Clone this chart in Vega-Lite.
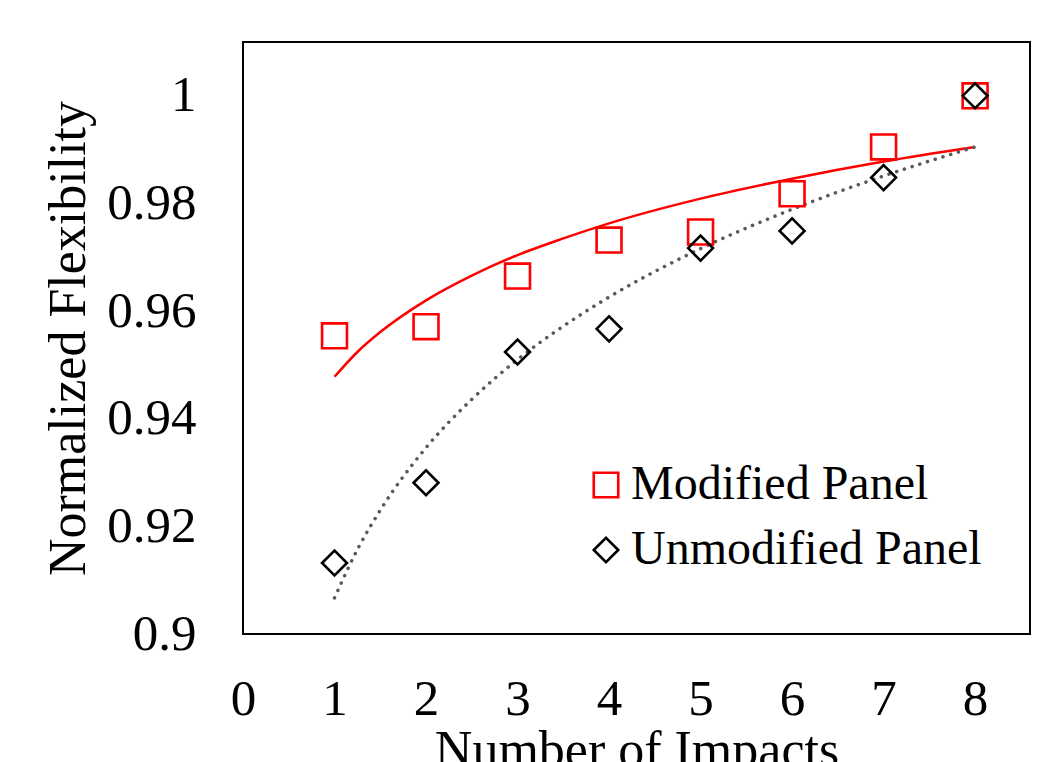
{
  "$schema": "https://vega.github.io/schema/vega-lite/v6.json",
  "width": 787,
  "height": 592,
  "autosize": {"type": "none"},
  "padding": {"left": 243, "top": 42, "right": 21, "bottom": 128},
  "background": "white",
  "config": {
    "font": "Liberation Serif",
    "view": {"stroke": "black", "strokeWidth": 2},
    "axis": {"grid": false, "domain": false, "ticks": false, "labelColor": "black", "titleColor": "black", "labelFont": "Liberation Serif", "titleFont": "Liberation Serif", "titleFontWeight": "normal"},
    "legend": {"labelFont": "Liberation Serif", "labelColor": "black"}
  },
  "datasets": {
    "points": [
      {"impacts": 1, "flex": 0.9554, "series": "Modified Panel"},
      {"impacts": 2, "flex": 0.9571, "series": "Modified Panel"},
      {"impacts": 3, "flex": 0.9665, "series": "Modified Panel"},
      {"impacts": 4, "flex": 0.9732, "series": "Modified Panel"},
      {"impacts": 5, "flex": 0.9747, "series": "Modified Panel"},
      {"impacts": 6, "flex": 0.9818, "series": "Modified Panel"},
      {"impacts": 7, "flex": 0.9905, "series": "Modified Panel"},
      {"impacts": 8, "flex": 1.0, "series": "Modified Panel"},
      {"impacts": 1, "flex": 0.9132, "series": "Unmodified Panel"},
      {"impacts": 2, "flex": 0.9281, "series": "Unmodified Panel"},
      {"impacts": 3, "flex": 0.9524, "series": "Unmodified Panel"},
      {"impacts": 4, "flex": 0.9567, "series": "Unmodified Panel"},
      {"impacts": 5, "flex": 0.9717, "series": "Unmodified Panel"},
      {"impacts": 6, "flex": 0.9749, "series": "Unmodified Panel"},
      {"impacts": 7, "flex": 0.9848, "series": "Unmodified Panel"},
      {"impacts": 8, "flex": 1.0, "series": "Unmodified Panel"}
    ],
    "trend": [
      {"impacts": 1, "flex": 0.9478, "series": "Modified Panel"},
      {"impacts": 1.25, "flex": 0.9524, "series": "Modified Panel"},
      {"impacts": 1.5, "flex": 0.9561, "series": "Modified Panel"},
      {"impacts": 2, "flex": 0.962, "series": "Modified Panel"},
      {"impacts": 2.5, "flex": 0.9666, "series": "Modified Panel"},
      {"impacts": 3, "flex": 0.9704, "series": "Modified Panel"},
      {"impacts": 3.5, "flex": 0.9735, "series": "Modified Panel"},
      {"impacts": 4, "flex": 0.9763, "series": "Modified Panel"},
      {"impacts": 5, "flex": 0.9809, "series": "Modified Panel"},
      {"impacts": 6, "flex": 0.9846, "series": "Modified Panel"},
      {"impacts": 7, "flex": 0.9878, "series": "Modified Panel"},
      {"impacts": 8, "flex": 0.9905, "series": "Modified Panel"},
      {"impacts": 1, "flex": 0.9067, "series": "Unmodified Panel"},
      {"impacts": 1.25, "flex": 0.9157, "series": "Unmodified Panel"},
      {"impacts": 1.5, "flex": 0.923, "series": "Unmodified Panel"},
      {"impacts": 2, "flex": 0.9346, "series": "Unmodified Panel"},
      {"impacts": 2.5, "flex": 0.9436, "series": "Unmodified Panel"},
      {"impacts": 3, "flex": 0.951, "series": "Unmodified Panel"},
      {"impacts": 3.5, "flex": 0.9572, "series": "Unmodified Panel"},
      {"impacts": 4, "flex": 0.9626, "series": "Unmodified Panel"},
      {"impacts": 5, "flex": 0.9716, "series": "Unmodified Panel"},
      {"impacts": 6, "flex": 0.9789, "series": "Unmodified Panel"},
      {"impacts": 7, "flex": 0.9851, "series": "Unmodified Panel"},
      {"impacts": 8, "flex": 0.9905, "series": "Unmodified Panel"}
    ]
  },
  "encoding": {
    "x": {
      "field": "impacts", "type": "quantitative",
      "scale": {"domain": [0, 8.6], "nice": false, "zero": false},
      "axis": {"values": [0, 1, 2, 3, 4, 5, 6, 7, 8], "title": "Number of Impacts", "labelFontSize": 51, "titleFontSize": 52, "labelPadding": 40, "titleY": 132, "titleBaseline": "alphabetic", "labelFlush": false, "labelOverlap": false}
    },
    "y": {
      "field": "flex", "type": "quantitative",
      "scale": {"domain": [0.9, 1.01], "nice": false, "zero": false},
      "axis": {"values": [0.9, 0.92, 0.94, 0.96, 0.98, 1.0], "format": ".2~f", "title": "Normalized Flexibility", "labelFontSize": 51, "titleFontSize": 52, "labelPadding": 47, "titleX": -159, "titleBaseline": "alphabetic", "labelFlush": false, "labelOverlap": false}
    }
  },
  "layer": [
    {
      "data": {"name": "trend"},
      "transform": [{"filter": "datum.series === 'Modified Panel'"}],
      "mark": {"type": "line", "color": "#ff0000", "strokeWidth": 2.5, "interpolate": "monotone"},
      "encoding": {}
    },
    {
      "data": {"name": "trend"},
      "transform": [{"filter": "datum.series === 'Unmodified Panel'"}],
      "mark": {"type": "line", "color": "#595959", "strokeWidth": 3.5, "strokeDash": [0.1, 8], "strokeCap": "round", "interpolate": "monotone"},
      "encoding": {}
    },
    {
      "data": {"name": "points"},
      "mark": {"type": "point", "filled": false, "strokeWidth": 2.6, "opacity": 1},
      "encoding": {
        "stroke": {
          "field": "series", "type": "nominal",
          "scale": {"domain": ["Modified Panel", "Unmodified Panel"], "range": ["#ff0000", "#000000"]},
          "legend": {"title": null, "orient": "none", "legendX": 339, "legendY": 419, "padding": 0, "labelFontSize": 48, "labelLimit": 0, "symbolSize": 600, "symbolStrokeWidth": 2.6, "labelOffset": 1, "rowPadding": 17, "symbolFillColor": "transparent"}
        },
        "shape": {
          "field": "series", "type": "nominal",
          "scale": {"domain": ["Modified Panel", "Unmodified Panel"], "range": ["square", "diamond"]},
          "legend": {"title": null, "orient": "none", "legendX": 339, "legendY": 419, "padding": 0, "labelFontSize": 48, "labelLimit": 0, "symbolSize": 600, "symbolStrokeWidth": 2.6, "labelOffset": 1, "rowPadding": 17, "symbolFillColor": "transparent"}
        },
        "size": {"value": 620}
      }
    }
  ]
}
